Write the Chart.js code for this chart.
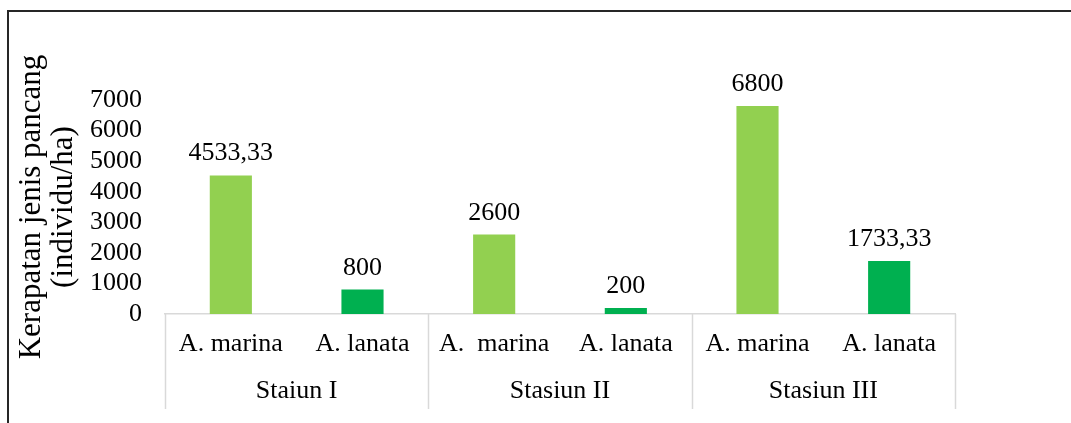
<!DOCTYPE html>
<html>
<head>
<meta charset="utf-8">
<script src="https://cdn.jsdelivr.net/npm/chart.js@4/dist/chart.umd.min.js"></script>
<style>
    html, body { margin: 0; padding: 0; background: #fff; }
    #wrap { position: relative; width: 1071px; height: 423px; }
</style>
</head>
<body>
<div id="wrap"><canvas id="densityChart"></canvas></div>
<script>
// Data
const speciesLabels = ['A. marina', 'A. lanata', 'A.  marina', 'A. lanata', 'A. marina', 'A. lanata'];
const stationLabels = ['Staiun I', 'Stasiun II', 'Stasiun III'];
const densityValues = [4533.33, 800, 2600, 200, 6800, 1733.33];
const barColors = ['#92D050', '#00B050', '#92D050', '#00B050', '#92D050', '#00B050'];
const yTicks = [0, 1000, 2000, 3000, 4000, 5000, 6000, 7000];
const yTitleLines = ['Kerapatan jenis pancang', '(individu/ha)'];

const serif = '"Liberation Serif", "Times New Roman", serif';

function formatValue(v) {
    return String(v).replace('.', ',');
}

// Frame, value labels and the second row of category labels
const decorPlugin = {
    id: 'decor',
    afterDraw(chart) {
        const ctx = chart.ctx;
        const x = chart.scales.x;
        const area = chart.chartArea;

        // outer frame (only top and left edges are visible)
        ctx.save();
        ctx.strokeStyle = '#262626';
        ctx.lineWidth = 2;
        ctx.beginPath();
        ctx.moveTo(8, 423);
        ctx.lineTo(8, 11);
        ctx.lineTo(1071, 11);
        ctx.stroke();

        // group separators
        ctx.strokeStyle = '#d9d9d9';
        ctx.lineWidth = 1.5;
        const half = (x.getPixelForValue(1) - x.getPixelForValue(0)) / 2;
        for (let g = 0; g <= stationLabels.length; g++) {
            const px = g < stationLabels.length
                ? x.getPixelForValue(g * 2) - half
                : x.getPixelForValue(g * 2 - 1) + half;
            ctx.beginPath();
            ctx.moveTo(Math.round(px) + 0.5, area.bottom);
            ctx.lineTo(Math.round(px) + 0.5, 409);
            ctx.stroke();
        }

        // station labels
        ctx.fillStyle = '#000';
        ctx.font = '26px ' + serif;
        ctx.textAlign = 'center';
        ctx.textBaseline = 'middle';
        stationLabels.forEach((label, g) => {
            const cx = (x.getPixelForValue(g * 2) + x.getPixelForValue(g * 2 + 1)) / 2;
            ctx.fillText(label, cx, 391);
        });

        // value labels
        ctx.textBaseline = 'alphabetic';
        const meta = chart.getDatasetMeta(0);
        meta.data.forEach((bar, i) => {
            ctx.fillText(formatValue(densityValues[i]), bar.x, bar.y - 15);
        });
        ctx.restore();
    }
};

const chartConfig = {
    type: 'bar',
    data: {
        labels: speciesLabels,
        datasets: [{
            data: densityValues,
            backgroundColor: barColors,
            borderWidth: 0,
            barPercentage: 0.32,
            categoryPercentage: 1
        }]
    },
    options: {
        responsive: true,
        maintainAspectRatio: false,
        animation: false,
        layout: {
            padding: { top: 100, right: 116, left: 0, bottom: 0 }
        },
        plugins: {
            legend: { display: false },
            tooltip: { enabled: false }
        },
        scales: {
            x: {
                grid: { display: false, drawTicks: false },
                border: { display: true, color: '#d9d9d9', width: 1.5 },
                ticks: {
                    color: '#000',
                    font: { family: serif, size: 26 },
                    padding: 15,
                    maxRotation: 0,
                    autoSkip: false
                },
                afterFit(scale) { scale.height = 109; }
            },
            y: {
                min: yTicks[0],
                max: yTicks[yTicks.length - 1],
                grid: { display: false, drawTicks: false },
                border: { display: false },
                afterBuildTicks(scale) {
                    scale.ticks = yTicks.map(v => ({ value: v }));
                },
                ticks: {
                    autoSkip: false,
                    color: '#000',
                    font: { family: serif, size: 26 },
                    padding: 23,
                    callback: v => String(v)
                },
                title: {
                    display: true,
                    text: yTitleLines,
                    color: '#000',
                    font: { family: serif, size: 31, lineHeight: 1.03 },
                    padding: { top: 16, bottom: 0 }
                },
                afterFit(scale) { scale.width = 165; }
            }
        }
    },
    plugins: [decorPlugin]
};

let charts = {};

document.addEventListener('DOMContentLoaded', function() {
    charts.density = new Chart(document.getElementById('densityChart'), chartConfig);
});
</script>
</body>
</html>
